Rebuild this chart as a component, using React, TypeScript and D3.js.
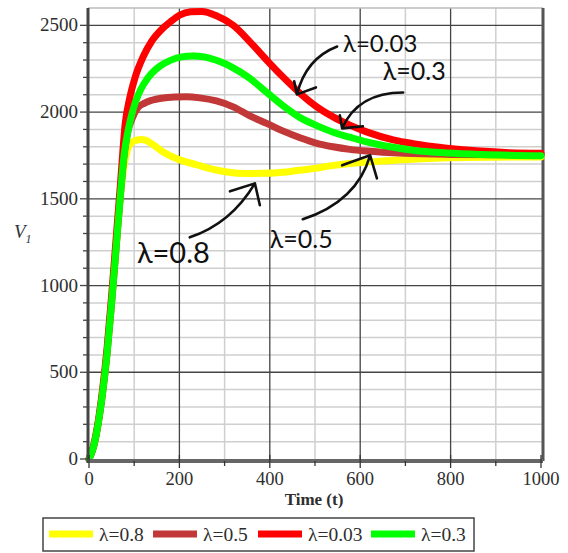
import * as d3 from 'd3';

// time / value pairs, one list per series
const tYellow = [0, 10, 20, 30, 40, 50, 60, 70, 78, 86, 95, 105, 115, 127, 140, 164, 197, 240, 270, 305, 350, 385, 430, 460, 504, 527, 577, 650, 725, 800, 900, 1000];
const vYellow = [0, 70, 200, 380, 610, 900, 1220, 1530, 1700, 1790, 1825, 1838, 1842, 1836, 1815, 1770, 1728, 1695, 1672, 1655, 1646, 1647, 1653, 1663, 1677, 1687, 1703, 1718, 1730, 1737, 1740, 1741];

const tBrown = [0, 10, 20, 30, 40, 50, 60, 70, 78, 86, 95, 108, 123, 139, 160, 190, 215, 245, 282, 319, 356, 393, 430, 467, 504, 540, 577, 614, 700, 800, 1000];
const vBrown = [0, 70, 200, 380, 610, 900, 1220, 1540, 1760, 1890, 1960, 2025, 2052, 2068, 2080, 2087, 2088, 2082, 2064, 2030, 1978, 1935, 1890, 1852, 1820, 1800, 1785, 1775, 1762, 1756, 1752];

const tRed = [0, 10, 20, 30, 40, 50, 60, 70, 80, 90, 102, 120, 139, 160, 180, 200, 225, 250, 282, 319, 356, 393, 430, 467, 504, 540, 577, 614, 673, 717, 792, 865, 930, 1000];
const vRed = [0, 75, 210, 400, 640, 940, 1270, 1600, 1930, 2080, 2200, 2320, 2410, 2475, 2520, 2558, 2578, 2580, 2555, 2500, 2405, 2300, 2200, 2108, 2030, 1972, 1925, 1886, 1840, 1818, 1792, 1775, 1766, 1762];

const tGreen = [0, 10, 20, 30, 40, 50, 60, 70, 78, 87, 97, 109, 122, 139, 157, 180, 205, 230, 255, 280, 300, 319, 356, 393, 430, 467, 504, 540, 577, 614, 673, 717, 792, 870, 1000];
const vGreen = [0, 70, 200, 380, 610, 900, 1220, 1540, 1760, 1900, 2010, 2100, 2165, 2225, 2265, 2298, 2318, 2324, 2318, 2300, 2280, 2255, 2194, 2114, 2035, 1968, 1922, 1884, 1855, 1828, 1797, 1780, 1764, 1755, 1748];

const seriesLabels = ['λ=0.8', 'λ=0.5', 'λ=0.03', 'λ=0.3'];
const seriesColors = ['#ffff00', '#c23838', '#ff0000', '#00ff00'];
const seriesT = [tYellow, tBrown, tRed, tGreen];
const seriesV = [vYellow, vBrown, vRed, vGreen];

const xTicks = [0, 200, 400, 600, 800, 1000];
const yTicks = [0, 500, 1000, 1500, 2000, 2500];

// hand-drawn annotations, in data units: text anchor, arrow start / control / tip, two barbs
const annotations = [
  { label: 'λ=0.03', size: 24, at: [562, 2344], from: [549, 2378], ctrl: [480, 2309], tip: [460, 2102], barbs: [[454, 2177], [502, 2142]] },
  { label: 'λ=0.3', size: 25, at: [650, 2183], from: [695, 2113], ctrl: [595, 2113], tip: [560, 1906], barbs: [[555, 1981], [606, 1918]] },
  { label: 'λ=0.5', size: 25, at: [400, 1215], from: [473, 1382], ctrl: [593, 1486], tip: [622, 1751], barbs: [[560, 1693], [637, 1618]] },
  { label: 'λ=0.8', size: 29, at: [106, 1129], from: [223, 1278], ctrl: [314, 1357], tip: [367, 1589], barbs: [[312, 1543], [378, 1463]] },
];

const W = 568;
const H = 553;
const left = 88;
const right = 543;
const top = 8;
const bottom = 461;

const x = d3.scaleLinear().domain([0, 1000]).range([89, 541]);
const y = d3.scaleLinear().domain([0, 2600]).range([459, 8]);

const serif = '"Liberation Serif", "Times New Roman", serif';
const hand = 'Lato, "Open Sans", sans-serif';

export default function App() {
  const line = d3.line<[number, number]>()
    .x(d => x(d[0]))
    .y(d => y(d[1]))
    .curve(d3.curveMonotoneX);

  const minorX = d3.range(100, 1000, 100).filter(t => t % 200 !== 0);
  const majorX = d3.range(200, 1000, 200);
  const minorY = d3.range(100, 2600, 100).filter(v => v % 500 !== 0);
  const majorY = d3.range(500, 2600, 500);

  return (
    <svg width={W} height={H} style={{ position: 'absolute', left: 0, top: 0, background: '#fff' }}>
      <rect x={0} y={0} width={W} height={H} fill="#fff" />

      {/* grid */}
      {minorX.map(t => (
        <line key={'mx' + t} x1={x(t)} x2={x(t)} y1={top} y2={bottom} stroke="#cfcfcf" strokeWidth={1.5} />
      ))}
      {minorY.map(v => (
        <line key={'my' + v} x1={left} x2={right} y1={y(v)} y2={y(v)} stroke="#cfcfcf" strokeWidth={1.5} />
      ))}
      {majorX.map(t => (
        <line key={'Mx' + t} x1={x(t)} x2={x(t)} y1={top} y2={bottom} stroke="#444" strokeWidth={1.3} />
      ))}
      {majorY.map(v => (
        <line key={'My' + v} x1={left} x2={right} y1={y(v)} y2={y(v)} stroke="#444" strokeWidth={1.3} />
      ))}
      <line x1={left} x2={right} y1={top} y2={top} stroke="#bbb" strokeWidth={1.5} />
      <line x1={right} x2={right} y1={top} y2={bottom} stroke="#555" strokeWidth={3} />

      {/* curves */}
      {seriesT.map((ts, i) => (
        <path
          key={seriesLabels[i]}
          d={line(ts.map((t, j) => [t, seriesV[i][j]] as [number, number])) || ''}
          fill="none"
          stroke={seriesColors[i]}
          strokeWidth={7}
          strokeLinejoin="round"
          strokeLinecap="round"
        />
      ))}

      {/* axes */}
      <line x1={left} x2={left} y1={top} y2={bottom + 2} stroke="#444" strokeWidth={3} />
      <line x1={left} x2={right} y1={bottom} y2={bottom} stroke="#666" strokeWidth={4} />
      {d3.range(0, 2600, 100).map(v => (
        <line key={'ty' + v} x1={v % 500 === 0 ? left - 8 : left - 5} x2={left} y1={y(v)} y2={y(v)} stroke="#444" strokeWidth={1.3} />
      ))}
      {d3.range(0, 1001, 100).map(t => (
        <line key={'tx' + t} x1={x(t)} x2={x(t)} y1={t % 200 === 0 ? bottom - 6 : bottom} y2={t % 200 === 0 ? bottom + 7 : bottom + 5} stroke="#333" strokeWidth={1.3} />
      ))}
      {yTicks.map(v => (
        <text key={'ly' + v} x={78} y={y(v) + 6} textAnchor="end" fontFamily={serif} fontSize={19} fill="#2e2e2e">{v}</text>
      ))}
      {xTicks.map(t => (
        <text key={'lx' + t} x={x(t)} y={485} textAnchor="middle" fontFamily={serif} fontSize={18.5} fill="#2e2e2e">{t}</text>
      ))}
      <text x={314} y={505} textAnchor="middle" fontFamily={serif} fontSize={17} fontWeight="bold" fill="#2e2e2e">Time (t)</text>
      <text x={14} y={238} fontFamily={serif} fontSize={19} fontStyle="italic" fill="#2e3440">
        V<tspan fontSize={12} dy={5}>1</tspan>
      </text>

      {/* annotations */}
      {annotations.map(a => {
        const p = d3.path();
        p.moveTo(x(a.from[0]), y(a.from[1]));
        p.quadraticCurveTo(x(a.ctrl[0]), y(a.ctrl[1]), x(a.tip[0]), y(a.tip[1]));
        p.moveTo(x(a.barbs[0][0]), y(a.barbs[0][1]));
        p.lineTo(x(a.tip[0]), y(a.tip[1]));
        p.lineTo(x(a.barbs[1][0]), y(a.barbs[1][1]));
        return (
          <g key={a.label}>
            <path d={p.toString()} fill="none" stroke="#111" strokeWidth={2.6} strokeLinecap="round" strokeLinejoin="round" />
            <text x={x(a.at[0])} y={y(a.at[1])} fontFamily={hand} fontSize={a.size} fill="#111">{a.label}</text>
          </g>
        );
      })}

      {/* legend */}
      <rect x={43} y={518} width={431} height={33} fill="#fff" stroke="#444" strokeWidth={1.5} />
      {seriesLabels.map((lab, i) => {
        const starts = [49, 153, 258, 371];
        const sx = starts[i];
        return (
          <g key={'lg' + lab}>
            <line x1={sx} x2={sx + 44} y1={534} y2={534} stroke={seriesColors[i]} strokeWidth={7} />
            <text x={sx + 50} y={541} fontFamily={serif} fontSize={19.5} fill="#2e2e2e">{lab}</text>
          </g>
        );
      })}
    </svg>
  );
}
